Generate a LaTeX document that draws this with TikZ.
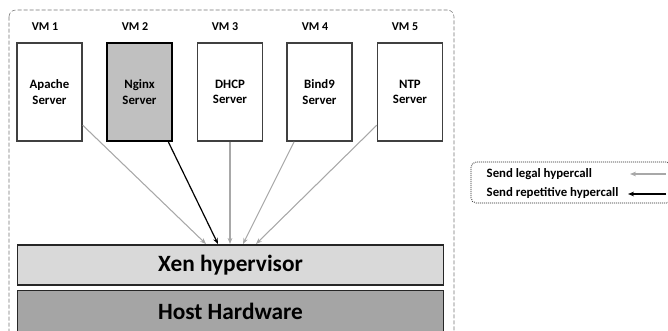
\documentclass[tikz,border=0pt]{standalone}
\usepackage{fontspec}
\setmainfont{Carlito}
\usetikzlibrary{arrows.meta}
\definecolor{legalgray}{HTML}{A8A8A8}
\definecolor{nginxgray}{HTML}{C0C0C0}
\definecolor{xengray}{HTML}{D9D9D9}
\definecolor{hostgray}{HTML}{A5A5A5}
\tikzset{vmbox/.style = {draw=black!75, line width=1.1pt, minimum width=48.75pt,
                         minimum height=73.5pt, align=center, font=\fontsize{9.6}{11.5}\bfseries},
         vmlabel/.style = {font=\fontsize{9}{10}\bfseries},
         layer/.style = {draw=black!85, line width=0.9pt, minimum width=320pt,
                         font=\fontsize{17.5}{19}\bfseries},
         legal/.style = {-{Stealth[length=4.5pt,width=3.5pt]}, draw=legalgray, line width=0.8pt},
         repeat/.style = {-{Stealth[length=4.5pt,width=3.5pt]}, draw=black, line width=0.9pt},
         legtext/.style = {anchor=west, font=\fontsize{9.6}{11}\bfseries}}

\begin{document}
\begin{tikzpicture}[x=0.75pt, y=-0.75pt]
  \useasboundingbox (0, 0) rectangle (668, 331);
  \draw [black!55, dashed, dash pattern=on 3pt off 1.5pt, rounded corners=5pt] (9, 10) rectangle (454, 350);

  \node [vmlabel] (l1) at (45, 27) {VM 1};
  \node [vmlabel] (l2) at (135, 27) {VM 2};
  \node [vmlabel] (l3) at (225, 27) {VM 3};
  \node [vmlabel] (l4) at (315, 27) {VM 4};
  \node [vmlabel] (l5) at (405, 27) {VM 5};

  \node [vmbox] (vm1) at (49.5, 92) {Apache\\Server};
  \node [vmbox, fill=nginxgray, draw=black, line width=1.6pt] (vm2) at (139.5, 92) {Nginx\\Server};
  \node [vmbox] (vm3) at (230, 92) {DHCP\\Server};
  \node [vmbox] (vm4) at (319.5, 92) {Bind9\\Server};
  \node [vmbox] (vm5) at (410, 92) {NTP\\Server};

  \node [layer, fill=xengray, minimum height=30pt] (xen) at (230.5, 265) {Xen hypervisor};
  \node [layer, fill=hostgray, minimum height=31pt] (host) at (230.5, 311) {Host Hardware};

  % hypercalls into the hypervisor
  \coordinate (in1) at (206, 244);
  \coordinate (in2) at (218, 244);
  \coordinate (in3) at (230, 244);
  \coordinate (in4) at (243, 244);
  \coordinate (in5) at (256, 244);
  \draw [legal] (vm1.-45) -- (in1);
  \draw [repeat] (vm2.-60) -- (in2);
  \draw [legal] (vm3.south) -- (in3);
  \draw [legal] (vm4.-117) -- (in4);
  \draw [legal] (vm5.-135) -- (in5);

  % legend
  \draw [black!70, dotted, dash pattern=on 0.6pt off 0.9pt, line width=0.8pt, rounded corners=4pt] (471, 162) rectangle (672, 203);
  \node [legtext] (leg1) at (482, 174) {Send legal hypercall};
  \node [legtext] (leg2) at (482, 193) {Send repetitive hypercall};
  \coordinate (a1) at (666, 174);
  \coordinate (b1) at (630, 174);
  \coordinate (a2) at (666, 194);
  \coordinate (b2) at (628, 194);
  \draw [legal] (a1) -- (b1);
  \draw [repeat] (a2) -- (b2);
\end{tikzpicture}
\end{document}
